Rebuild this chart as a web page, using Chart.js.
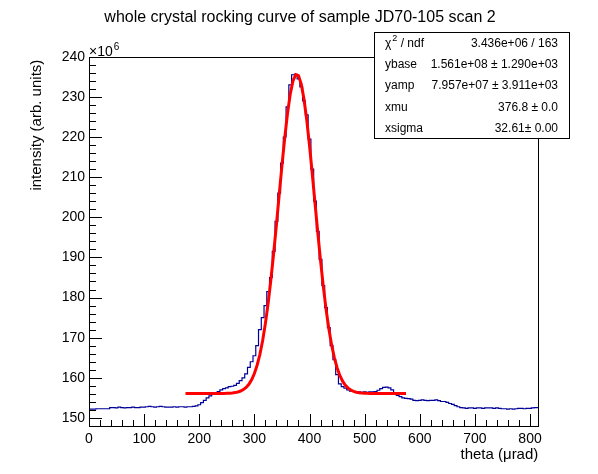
<!DOCTYPE html>
<html>
<head>
<meta charset="utf-8">
<script src="https://cdn.jsdelivr.net/npm/chart.js@4/dist/chart.umd.min.js"></script>
<style>
html,body{margin:0;padding:0;background:#fff;}
#wrap{width:598px;height:474px;}
</style>
</head>
<body>
<div id="wrap"><canvas id="c" width="598" height="474"></canvas></div>
<script>
// ---- data (intensity in units of 10^6) ----
const binWidth = 5;          // µrad
const histStart = -2.5;      // µrad, left edge of first bin (bins centred on multiples of 5)
const histValues = [
  152.2,152.2,152.2,152.3,152.3,152.3,152.3,152.3,
  152.6,152.6,152.5,152.7,152.6,152.5,152.6,152.6,152.7,152.6,152.6,152.7,
  152.7,152.8,152.9,152.8,152.7,152.8,152.9,152.8,152.7,152.7,
  152.7,152.8,152.7,152.8,152.8,152.7,152.8,152.8,152.9,
  153.0,153.3,153.8,154.4,155.0,155.5,155.9,156.2,156.6,157.0,
  157.3,157.5,157.8,157.9,158.1,158.6,159.3,160.0,161.0,162.6,
  164.0,165.5,168.0,172.0,175.0,178.0,181.5,185.0,191.5,199.0,
  206.0,213.5,220.0,227.5,233.0,235.5,235.6,234.5,232.5,229.0,
  225.5,219.5,212.0,204.0,196.5,189.5,183.0,177.5,172.5,168.0,
  164.5,160.8,158.5,157.8,157.4,157.0,156.7,156.6,156.5,156.5,
  156.4,156.5,156.4,156.5,156.5,156.6,156.9,157.3,157.6,157.7,
  157.5,157.0,156.0,155.6,155.3,155.0,154.9,154.8,154.7,154.4,
  154.3,154.4,154.5,154.4,154.3,154.4,154.4,154.5,154.3,154.1,
  154.1,153.9,153.6,153.4,153.1,152.8,152.6,
  152.5,152.4,152.5,152.5,152.4,152.5,152.5,152.4,152.5,152.5,
  152.5,152.4,152.5,152.4,152.3,152.3,152.2,152.3,152.2,152.3,
  152.4,152.4,152.3,152.4,152.4,152.5,152.6,152.6
];
const fitX = [175,180,185,190,195,200,205,210,215,220,225,230,235,240,245,250,255,260,265,270,
  275,280,285,290,295,300,305,310,315,320,325,330,335,340,345,350,355,360,365,370,
  375,380,385,390,395,400,405,410,415,420,425,430,435,440,445,450,455,460,465,470,
  475,480,485,490,495,500,505,510,515,520,525,530,535,540,545,550,555,560,565,570,575];
const fitY = [156.10,156.10,156.10,156.10,156.10,156.10,156.10,156.10,156.10,156.10,156.10,156.10,156.10,156.10,156.12,156.14,156.17,156.23,156.32,156.47,
  156.71,157.07,157.61,158.40,159.52,161.07,163.15,165.86,169.31,173.56,178.63,184.51,191.10,198.19,205.56,212.87,219.73,225.78,230.63,233.96,
  235.55,235.29,233.20,229.41,224.20,217.88,210.84,203.48,196.16,189.19,182.79,177.13,172.28,168.27,165.04,162.51,160.59,159.17,158.15,157.44,
  156.95,156.63,156.42,156.29,156.21,156.16,156.13,156.12,156.11,156.10,156.10,156.10,156.10,156.10,156.10,156.10,156.10,156.10,156.10,156.10,156.10];
const xTicks = [0,100,200,300,400,500,600,700,800];
const yTicks = [150,160,170,180,190,200,210,220,230,240];
const xRange = [0, 815];
const yRange = [148, 240];
const titleText = "whole crystal rocking curve of sample JD70-105 scan 2";
const xTitle = "theta (\u03bcrad)";
const yTitle = "intensity (arb. units)";
const statNames = ["\u03c7\u00b2 / ndf","ybase","yamp","xmu","xsigma"];
const statValues = ["3.436e+06 / 163","1.561e+08 \u00b1 1.290e+03","7.957e+07 \u00b1 3.911e+03","376.8 \u00b1 0.0","32.61\u00b1 0.00"];

// ---- build datasets ----
const histPts = histValues.map((v,i)=>({x: histStart + i*binWidth, y: v}));
histPts.push({x: histStart + histValues.length*binWidth, y: histValues[histValues.length-1]});
const fitPts = fitX.map((x,i)=>({x:x, y:fitY[i]}));

const FONT = "'Liberation Sans', Arial, Helvetica, sans-serif";

const rootPlugin = {
  id: 'rootDecor',
  afterDraw(chart){
    const ctx = chart.ctx;
    const a = chart.chartArea;
    const xs = chart.scales.x, ys = chart.scales.y;
    ctx.save();
    ctx.strokeStyle = '#000';
    ctx.lineWidth = 1;
    // frame
    ctx.strokeRect(Math.round(a.left)+0.5, Math.round(a.top)+0.5, Math.round(a.right-a.left), Math.round(a.bottom-a.top));
    // y ticks (inside)
    ctx.beginPath();
    for (let i=0;i<yTicks.length;i++){
      const p = Math.round(ys.getPixelForValue(yTicks[i]))+0.5;
      ctx.moveTo(a.left, p); ctx.lineTo(a.left+13, p);
    }
    const yStep = yTicks[1]-yTicks[0];
    for (let v = yTicks[0]-yStep; v <= yRange[1]; v += yStep/5){
      if (v < yRange[0] - 1e-9) continue;
      const p = Math.round(ys.getPixelForValue(v))+0.5;
      ctx.moveTo(a.left, p); ctx.lineTo(a.left+7, p);
    }
    // x ticks (inside)
    for (let i=0;i<xTicks.length;i++){
      const p = Math.round(xs.getPixelForValue(xTicks[i]))+0.5;
      ctx.moveTo(p, a.bottom); ctx.lineTo(p, a.bottom-12);
    }
    const xStep = xTicks[1]-xTicks[0];
    for (let v = xTicks[0]; v <= xRange[1]; v += xStep/5){
      const p = Math.round(xs.getPixelForValue(v))+0.5;
      ctx.moveTo(p, a.bottom); ctx.lineTo(p, a.bottom-6);
    }
    ctx.stroke();

    ctx.fillStyle = '#000';
    // title
    ctx.font = '16px ' + FONT;
    ctx.textAlign = 'center'; ctx.textBaseline = 'middle';
    ctx.fillText(titleText, 300, 18);
    // axis titles
    ctx.font = '15px ' + FONT;
    ctx.textAlign = 'right'; ctx.textBaseline = 'alphabetic';
    ctx.fillText(xTitle, a.right, 459);
    ctx.save();
    ctx.translate(41, a.top + 3);
    ctx.rotate(-Math.PI/2);
    ctx.textAlign = 'right';
    ctx.fillText(yTitle, 0, 0);
    ctx.restore();
    // x10^6
    ctx.font = '14px ' + FONT;
    ctx.textAlign = 'left'; ctx.textBaseline = 'alphabetic';
    ctx.fillText('\u00d710', a.left, a.top-1);
    const w = ctx.measureText('\u00d710').width;
    ctx.font = '10px ' + FONT;
    ctx.fillText('6', a.left + w + 1, a.top-7);

    // stats box
    const bx = 374, by = 32, bw = 195, bh = 106;
    ctx.fillStyle = '#fff';
    ctx.fillRect(bx, by, bw, bh);
    ctx.strokeRect(bx+0.5, by+0.5, bw, bh);
    ctx.fillStyle = '#000';
    const rowH = bh/statNames.length;
    for (let i=0;i<statNames.length;i++){
      const cy = by + rowH*(i+0.5) + 1;
      ctx.font = '12px ' + FONT;
      ctx.textBaseline = 'middle';
      ctx.textAlign = 'left';
      if (i===0){
        ctx.fillText('\u03c7', bx+11, cy);
        const cw = ctx.measureText('\u03c7').width;
        ctx.font = '9px ' + FONT;
        ctx.fillText('2', bx+11+cw+1, cy-5);
        ctx.font = '12px ' + FONT;
        ctx.fillText(' / ndf', bx+11+cw+6, cy);
      } else {
        ctx.fillText(statNames[i], bx+11, cy);
      }
      ctx.textAlign = 'right';
      ctx.fillText(statValues[i], bx+bw-11, cy);
    }
    ctx.restore();
  }
};

new Chart(document.getElementById('c'), {
  type: 'line',
  data: {
    datasets: [
      { label:'fit', data: fitPts, borderColor:'#ff0000', borderWidth:3, pointRadius:0, fill:false, tension:0 },
      { label:'hist', data: histPts, borderColor:'#000099', borderWidth:1.2, pointRadius:0, fill:false, stepped:'before' }
    ]
  },
  options: {
    responsive:false,
    animation:false,
    devicePixelRatio:1,
    layout:{ padding:{ top:56.7, right:59.7, left:0, bottom:0 } },
    plugins:{ legend:{display:false}, tooltip:{enabled:false}, title:{display:false} },
    scales:{
      x:{
        type:'linear', min:xRange[0], max:xRange[1],
        grid:{ display:false, drawTicks:false },
        border:{ display:false },
        afterBuildTicks: s => { s.ticks = xTicks.map(v=>({value:v})); },
        afterFit: s => { s.height = 474 - 426; },
        ticks:{ color:'#000', font:{ family:FONT, size:14 }, padding:5, maxRotation:0, autoSkip:false }
      },
      y:{
        type:'linear', min:yRange[0], max:yRange[1],
        grid:{ display:false, drawTicks:false },
        border:{ display:false },
        afterBuildTicks: s => { s.ticks = yTicks.map(v=>({value:v})); },
        afterFit: s => { s.width = 89; },
        ticks:{ color:'#000', font:{ family:FONT, size:14 }, padding:4, autoSkip:false }
      }
    }
  },
  plugins:[rootPlugin]
});
</script>
</body>
</html>
